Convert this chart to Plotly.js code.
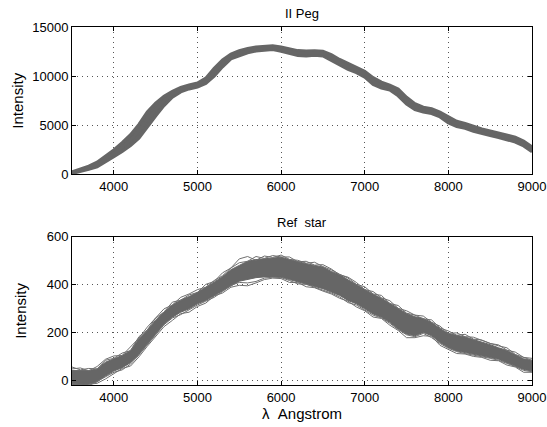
<!DOCTYPE html>
<html>
<head>
<meta charset="utf-8">
<script src="https://cdn.plot.ly/plotly-3.0.1.min.js"></script>
<style>html,body{margin:0;padding:0;background:#fff;}#chart{width:547px;height:427px;}</style>
</head>
<body>
<div id="chart"></div>
<script>
// Wavelength grid (Angstrom)
const wavelength = [3500,3600,3700,3800,3900,4000,4100,4200,4300,4400,4500,4600,4700,4800,4900,5000,5100,5200,5300,5400,5500,5600,5700,5800,5900,6000,6100,6200,6300,6400,6500,6600,6700,6800,6900,7000,7100,7200,7300,7400,7500,7600,7700,7800,7900,8000,8100,8200,8300,8400,8500,8600,8700,8800,8900,9000];

// II Peg spectra (upper edge, middle, lower edge of the band)
const iiPegUpper = [260,520,850,1250,1850,2500,3250,4050,5100,6350,7250,7950,8450,8850,9100,9300,9800,10800,11650,12250,12600,12820,12960,13050,13100,12980,12800,12600,12550,12580,12530,12200,11700,11300,10950,10500,9850,9400,9100,8700,7850,7200,6850,6700,6350,5850,5420,5200,4900,4640,4440,4230,4030,3800,3400,2800];
const iiPegMiddle = [170,400,680,1000,1550,2150,2800,3500,4400,5600,6600,7500,8150,8650,8900,9100,9500,10400,11300,12000,12350,12600,12750,12850,12900,12750,12550,12350,12300,12350,12300,11900,11400,11000,10650,10200,9500,9100,8850,8350,7500,6900,6600,6450,6100,5550,5150,4950,4650,4400,4200,4000,3800,3550,3150,2550];
const iiPegLower = [100,280,520,780,1250,1800,2350,2950,3700,4850,5950,7000,7850,8400,8700,8900,9250,10000,10950,11750,12100,12380,12550,12650,12700,12520,12300,12100,12050,12120,12050,11600,11100,10700,10350,9900,9150,8800,8600,8000,7150,6600,6350,6200,5850,5250,4880,4700,4400,4160,3960,3770,3570,3300,2900,2300];

// Reference star spectra (dense core edges and individual outlying spectra)
const refCoreUpper = [43,43,43,50,78,92,106,127,176,211,253,288,316,337,351,369,389,411,435,463,481,498,505,509,512,515,505,495,488,481,474,456,442,421,400,379,361,344,323,302,281,267,260,243,218,197,190,183,172,162,151,138,127,109,92,85];
const refCoreLower = [-14,-19,-14,-4,20,41,55,76,111,153,195,237,265,286,300,321,335,356,377,395,415,422,430,433,433,433,422,412,405,395,384,370,356,335,321,300,279,265,244,216,195,188,202,188,160,139,125,118,111,104,97,90,76,62,48,41];
const refSpecA = [58,46,52,50,86,94,116,126,184,212,262,286,328,336,358,368,402,414,450,470,508,518,502,520,514,524,506,502,490,494,476,462,444,428,402,392,362,356,322,314,282,274,258,254,220,208,190,194,174,170,156,150,128,120,98,94];
const refSpecB = [-20,-24,-14,-10,8,30,52,62,100,144,184,226,252,280,286,310,324,354,366,390,398,396,408,422,428,426,410,410,392,388,374,362,344,332,308,292,266,260,232,210,180,180,188,186,148,132,114,112,102,98,86,84,66,58,36,36];
const refSpecC = [50,54,42,60,90,104,106,140,178,224,264,300,316,348,362,380,390,418,438,470,492,498,518,510,522,516,516,496,498,482,484,466,442,432,410,380,372,346,334,302,292,274,270,244,228,198,200,184,182,168,156,146,138,110,98,86];
const refSpecD = [-10,-16,-20,-2,16,36,46,70,108,150,190,234,262,276,296,316,332,348,372,398,410,408,414,428,432,430,418,404,402,390,380,366,350,326,316,296,274,262,240,214,192,184,198,180,156,136,122,114,108,100,94,86,74,60,44,38];

const xTicks = [4000,5000,6000,7000,8000,9000];
const topYTicks = [0,5000,10000,15000];
const botYTicks = [0,200,400,600];

const GRAY = 'rgb(102,102,102)';
const EDGE = 'rgb(112,112,112)';
const traces = [
  {x: wavelength, y: iiPegLower, xaxis:'x', yaxis:'y', mode:'lines', line:{color:GRAY, width:3}},
  {x: wavelength, y: iiPegUpper, xaxis:'x', yaxis:'y', mode:'lines', line:{color:GRAY, width:3}, fill:'tonexty', fillcolor:GRAY},
  {x: wavelength, y: iiPegMiddle, xaxis:'x', yaxis:'y', mode:'lines', line:{color:GRAY, width:3}},
  {x: wavelength, y: refCoreLower, xaxis:'x2', yaxis:'y2', mode:'lines', line:{color:GRAY, width:1}},
  {x: wavelength, y: refCoreUpper, xaxis:'x2', yaxis:'y2', mode:'lines', line:{color:GRAY, width:1}, fill:'tonexty', fillcolor:GRAY},
  {x: wavelength, y: refSpecA, xaxis:'x2', yaxis:'y2', mode:'lines', line:{color:EDGE, width:1}},
  {x: wavelength, y: refSpecB, xaxis:'x2', yaxis:'y2', mode:'lines', line:{color:EDGE, width:1}},
  {x: wavelength, y: refSpecC, xaxis:'x2', yaxis:'y2', mode:'lines', line:{color:EDGE, width:1}},
  {x: wavelength, y: refSpecD, xaxis:'x2', yaxis:'y2', mode:'lines', line:{color:EDGE, width:1}}
];

const FONT = 'Liberation Sans, Arial, sans-serif';
const axisCommon = {
  showline:true, linecolor:'#000', linewidth:1, mirror:'ticks',
  ticks:'inside', ticklen:4, tickcolor:'#000', tickwidth:1,
  showgrid:true, gridcolor:'#555', griddash:'1px,4px', gridwidth:1,
  zeroline:false, tickformat:'d', tickfont:{family:FONT, size:13, color:'#000'}
};

const layout = {
  width:547, height:427,
  margin:{l:72, r:15, t:27, b:42},
  paper_bgcolor:'#fff', plot_bgcolor:'#fff',
  showlegend:false,
  font:{family:FONT, color:'#000'},
  xaxis: Object.assign({}, axisCommon, {domain:[0,1], range:[3500,9000], anchor:'y', tickvals:xTicks}),
  yaxis: Object.assign({}, axisCommon, {domain:[0.588,1], range:[0,15000], anchor:'x', tickvals:topYTicks,
    title:{text:'Intensity', font:{family:FONT, size:15, color:'#000'}, standoff:4}}),
  xaxis2: Object.assign({}, axisCommon, {domain:[0,1], range:[3500,9000], anchor:'y2', tickvals:xTicks,
    title:{text:'λ  Angstrom', font:{family:FONT, size:15, color:'#000'}, standoff:3}}),
  yaxis2: Object.assign({}, axisCommon, {domain:[0,0.414], range:[-17,600], anchor:'x2', tickvals:botYTicks,
    title:{text:'Intensity', font:{family:FONT, size:15, color:'#000'}, standoff:16}}),
  annotations:[
    {text:'II Peg', xref:'paper', yref:'paper', x:0.5, y:1.039, xanchor:'center', yanchor:'middle', showarrow:false, font:{family:FONT, size:13, color:'#000'}},
    {text:'Ref  star', xref:'paper', yref:'paper', x:0.5, y:0.4534, xanchor:'center', yanchor:'middle', showarrow:false, font:{family:FONT, size:13, color:'#000'}}
  ]
};

Plotly.newPlot('chart', traces, layout, {staticPlot:true, displayModeBar:false});
</script>
</body>
</html>
